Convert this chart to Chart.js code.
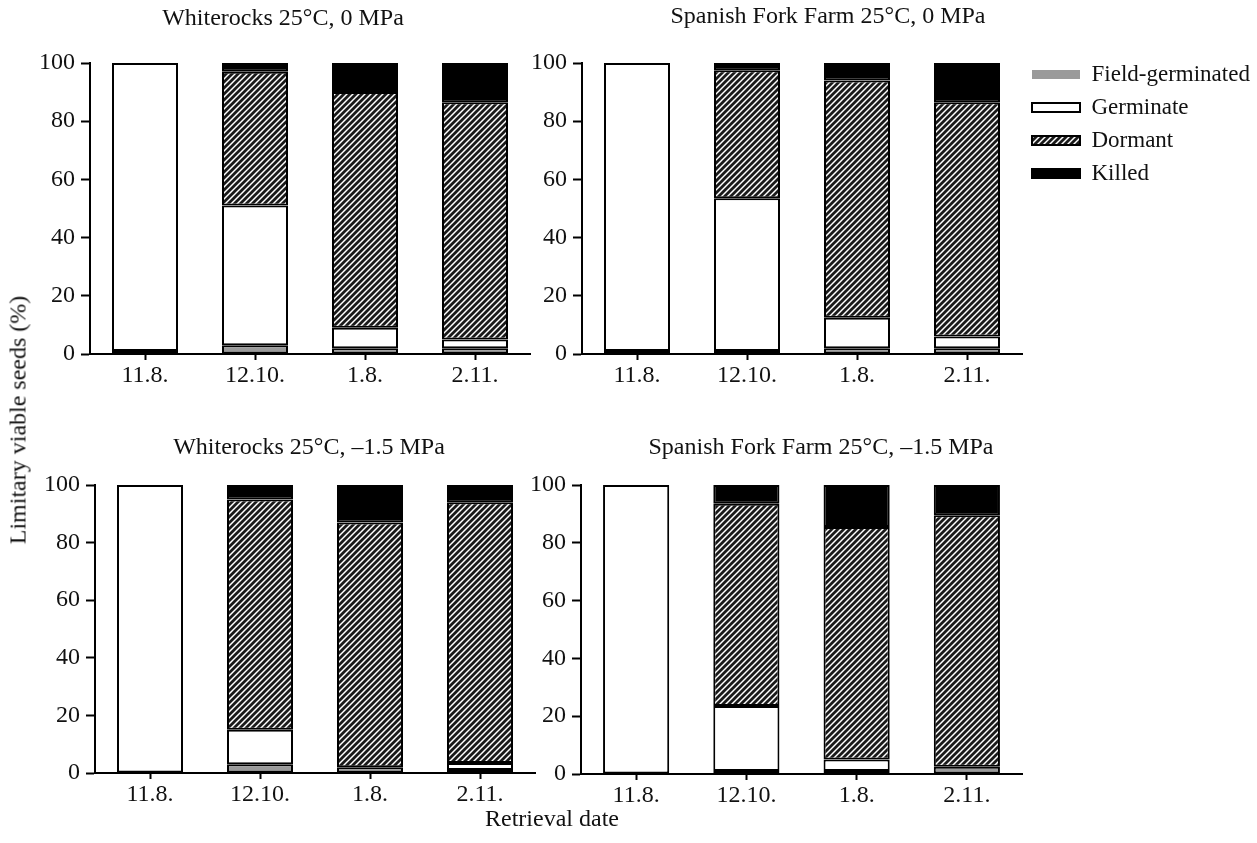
<!DOCTYPE html>
<html>
<head>
<meta charset="utf-8">
<script src="https://cdn.jsdelivr.net/npm/chart.js@4.4.1/dist/chart.umd.min.js"></script>
<style>
  body { margin: 0; background: #fff; }
  #wrap { position: relative; width: 1257px; height: 843px; font-family: "Liberation Serif", serif; color: #111; }
  canvas { position: absolute; }
  .lbl { position: absolute; white-space: nowrap; font-size: 24px; transform: translate(-50%, -50%); }
</style>
</head>
<body>
<div id="wrap">
  <canvas id="wr0" width="545" height="400" style="left:0;top:0"></canvas>
  <canvas id="sf0" width="732" height="400" style="left:525px;top:0"></canvas>
  <canvas id="wr15" width="545" height="397" style="left:0;top:422px"></canvas>
  <canvas id="sf15" width="512" height="398" style="left:525px;top:422px"></canvas>

  <div class="lbl" style="left:283px;top:17px">Whiterocks 25°C, 0 MPa</div>
  <div class="lbl" style="left:828px;top:15px">Spanish Fork Farm 25°C, 0 MPa</div>
  <div class="lbl" style="left:309px;top:446px">Whiterocks 25°C, –1.5 MPa</div>
  <div class="lbl" style="left:821px;top:446px">Spanish Fork Farm 25°C, –1.5 MPa</div>
  <div class="lbl" style="left:18px;top:420px;transform:translate(-50%,-50%) rotate(-90deg)">Limitary viable seeds (%)</div>
  <div class="lbl" style="left:552px;top:818px">Retrieval date</div>
</div>

<script>
// ---- data ----
const dates = ["11.8.", "12.10.", "1.8.", "2.11."];
const yTicks = [0, 20, 40, 60, 80, 100];
const seriesNames = ["Field-germinated", "Germinate", "Dormant", "Killed"];

// Whiterocks 25°C, 0 MPa
const wr0Field = [1, 3, 2, 2];
const wr0Germ  = [99, 48, 7, 3];
const wr0Dorm  = [0, 46, 81, 81.5];
const wr0Kill  = [0, 3, 10, 13.5];

// Spanish Fork Farm 25°C, 0 MPa
const sf0Field = [1, 1, 2, 2];
const sf0Germ  = [99, 52.5, 10.5, 4];
const sf0Dorm  = [0, 44, 81.5, 80.5];
const sf0Kill  = [0, 2.5, 6, 13.5];

// Whiterocks 25°C, -1.5 MPa
const wr15Field = [0, 3, 2, 1];
const wr15Germ  = [100, 12, 0, 2.5];
const wr15Dorm  = [0, 80, 85, 90.5];
const wr15Kill  = [0, 5, 13, 6];

// Spanish Fork Farm 25°C, -1.5 MPa
const sf15Field = [0, 1, 1, 2.5];
const sf15Germ  = [100, 22.5, 4, 0];
const sf15Dorm  = [0, 70, 80.5, 87];
const sf15Kill  = [0, 6.5, 14.5, 10.5];

// ---- styles ----
const FONT = { family: "'Liberation Serif', serif", size: 24 };
const LEGEND_FONT = { family: "'Liberation Serif', serif", size: 23 };

// diagonal hatch for "Dormant"
function hatch() {
    const c = document.createElement("canvas");
    c.width = 6; c.height = 6;
    const g = c.getContext("2d");
    g.fillStyle = "#fff";
    g.fillRect(0, 0, 6, 6);
    g.strokeStyle = "#1a1a1a";
    g.lineWidth = 2.8;
    g.beginPath();
    g.moveTo(-1, 7); g.lineTo(7, -1);
    g.moveTo(-4, 4); g.lineTo(4, -4);
    g.moveTo(2, 10); g.lineTo(10, 2);
    g.stroke();
    return g.createPattern(c, "repeat");
}
const dormantFill = hatch();
const fills = ["#9a9a9a", "#ffffff", dormantFill, "#000000"];

function buildDatasets(field, germ, dorm, kill) {
    return [field, germ, dorm, kill].map((vals, i) => ({
        label: seriesNames[i],
        data: vals,
        backgroundColor: fills[i],
        borderColor: "#000",
        borderWidth: 2,
        borderSkipped: false,
        barPercentage: 0.6,
        categoryPercentage: 1.0
    }));
}

// legend: fixed width on the right, nudged up a little
const legendFit = {
    id: "legendFit",
    beforeInit(chart) {
        if (!chart.legend) return;
        const orig = chart.legend.fit;
        chart.legend.fit = function () { orig.call(this); this.width = 235; };
    },
    afterLayout(chart) {
        if (chart.legend) chart.legend.top -= 10;
    }
};

function makePanel(id, datasets, geo) {
    const ctx = document.getElementById(id);
    const showLegend = !!geo.legend;
    return new Chart(ctx, {
        type: "bar",
        data: { labels: dates, datasets: datasets },
        options: {
            responsive: false,
            devicePixelRatio: 1,
            animation: false,
            layout: { padding: { top: 63, right: geo.right, left: 0, bottom: 0 } },
            plugins: {
                title: { display: false },
                tooltip: { enabled: false },
                legend: {
                    display: showLegend,
                    position: "right",
                    align: "start",
                    labels: {
                        color: "#111",
                        font: LEGEND_FONT,
                        boxWidth: 48,
                        boxHeight: 9,
                        padding: 10,
                        generateLabels(chart) {
                            const items = Chart.defaults.plugins.legend.labels.generateLabels(chart);
                            items[0].lineWidth = 0;
                            items[0].strokeStyle = fills[0];
                            return items;
                        }
                    }
                }
            },
            scales: {
                x: {
                    stacked: true,
                    offset: true,
                    grid: { offset: false, drawOnChartArea: false, color: "#000", tickLength: 6, tickWidth: 2 },
                    border: { color: "#000", width: 2 },
                    ticks: { color: "#111", font: FONT, padding: 1, maxRotation: 0 },
                    afterFit(scale) { scale.height = 46; }
                },
                y: {
                    stacked: true,
                    min: 0,
                    max: 100,
                    grid: { drawOnChartArea: false, color: "#000", tickLength: 9, tickWidth: 2 },
                    border: { color: "#000", width: 2 },
                    ticks: { color: "#111", font: FONT, padding: 6 },
                    afterBuildTicks(scale) { scale.ticks = yTicks.map(v => ({ value: v })); },
                    afterFit(scale) { scale.width = geo.yWidth; }
                }
            }
        },
        plugins: showLegend ? [legendFit] : []
    });
}

makePanel("wr0", buildDatasets(wr0Field, wr0Germ, wr0Dorm, wr0Kill), { yWidth: 90, right: 15 });
makePanel("sf0", buildDatasets(sf0Field, sf0Germ, sf0Dorm, sf0Kill), { yWidth: 57, right: 0, legend: true });
makePanel("wr15", buildDatasets(wr15Field, wr15Germ, wr15Dorm, wr15Kill), { yWidth: 95, right: 10 });
makePanel("sf15", buildDatasets(sf15Field, sf15Germ, sf15Dorm, sf15Kill), { yWidth: 56, right: 15 });
</script>
</body>
</html>
